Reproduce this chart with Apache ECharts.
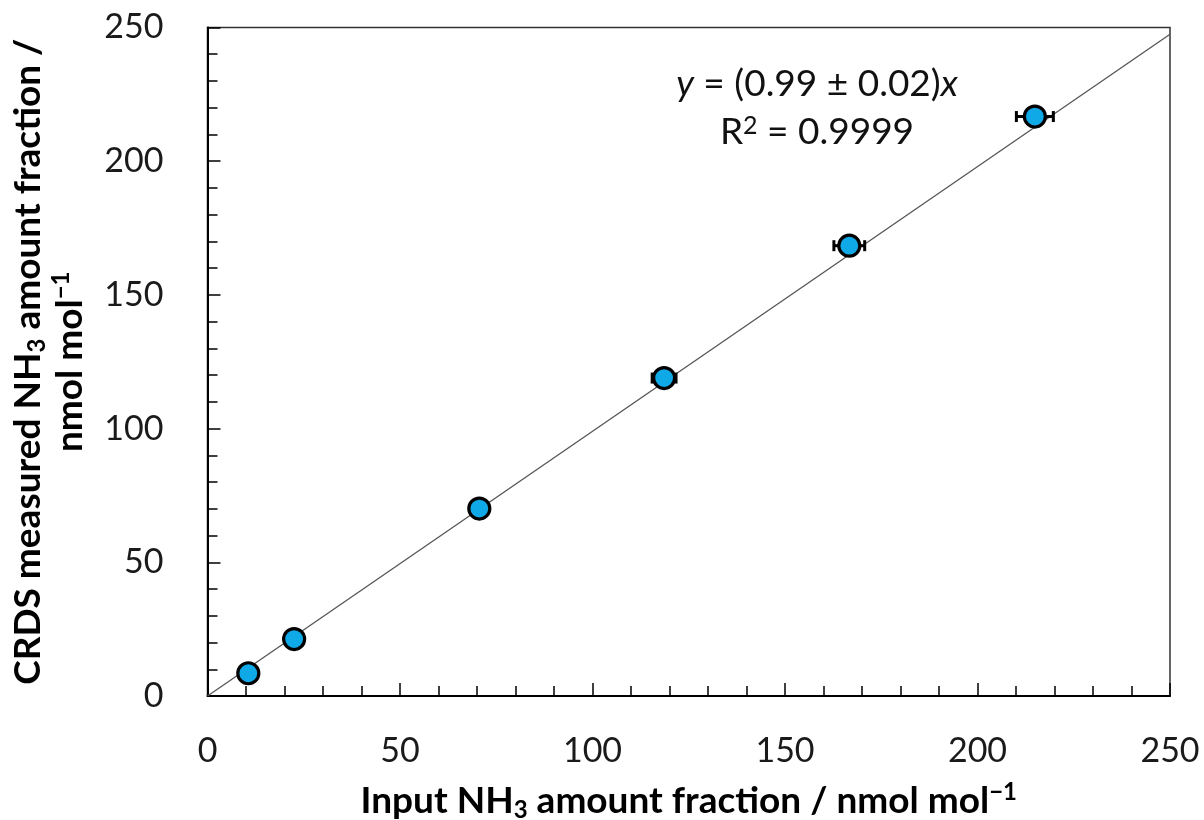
<!DOCTYPE html>
<html>
<head>
<meta charset="utf-8">
<script src="https://cdn.jsdelivr.net/npm/echarts@6/dist/echarts.min.js"></script>
<style>
  html, body { margin: 0; padding: 0; background: #fff; }
  #chart { width: 1204px; height: 820px; }
</style>
</head>
<body>
<div id="chart"></div>
<script>
// values
const inputNH3 = [10.6, 22.5, 70.6, 118.6, 166.7, 214.9];
const measuredNH3 = [8.5, 21.3, 70.1, 118.9, 168.4, 216.7];
const inputErr = [0.3, 0.6, 1.6, 3.1, 4.0, 4.8];
// fitted line y = 0.99x, end points
const fitX = [0, 250];
const fitY = [0, 247.5];
const axisMin = 0, axisMax = 250, axisStep = 50;

const FONT = 'Lato';

const chart = echarts.init(document.getElementById('chart'));

const nameRich = {
  b: { fontFamily: FONT, fontWeight: 'bold', fontSize: 37, lineHeight: 42, color: '#000' },
  sub: { fontFamily: FONT, fontWeight: 'bold', fontSize: 24, lineHeight: 20, verticalAlign: 'bottom', color: '#000' },
  sup: { fontFamily: FONT, fontWeight: 'bold', fontSize: 24, lineHeight: 30, verticalAlign: 'top', color: '#000' }
};

function axisCommon() {
  return {
    type: 'value',
    min: axisMin,
    max: axisMax,
    interval: axisStep,
    axisLine: { show: true, onZero: false, lineStyle: { color: '#000', width: 2 } },
    axisTick: { show: true, inside: true, length: 13, lineStyle: { color: '#000', width: 1.5 } },
    minorTick: { show: true, splitNumber: 5, length: 10, lineStyle: { color: '#000', width: 1.5 } },
    splitLine: { show: false },
    axisLabel: { fontFamily: FONT, fontSize: 34, color: '#1a1a1a' },
    nameLocation: 'middle',
    nameTextStyle: { rich: nameRich, align: 'center' }
  };
}

const xAxis = axisCommon();
xAxis.name = '{b|Input NH}{sub|3}{b| amount fraction / nmol mol}{sup|−1}';
xAxis.nameGap = 84;
xAxis.axisLabel.margin = 38;

const yAxis = axisCommon();
yAxis.name = '{b|CRDS measured NH}{sub|3}{b| amount fraction /}\n{b|nmol mol}{sup|−1}';
yAxis.nameGap = 116;
yAxis.nameRotate = 90;
yAxis.axisLabel.margin = 44;

const option = {
  backgroundColor: '#fff',
  animation: false,
  grid: {
    left: 207.5, right: 34, top: 27.5, bottom: 124,
    containLabel: false,
    outerBoundsMode: 'none',
    show: true,
    borderColor: '#333',
    borderWidth: 1.5,
    backgroundColor: 'transparent'
  },
  xAxis: xAxis,
  yAxis: yAxis,
  graphic: [
    {
      type: 'text',
      x: 817, y: 84,
      style: {
        text: '{i|y} = (0.99 ± 0.02){i|x}',
        align: 'center',
        verticalAlign: 'middle',
        font: '37px ' + FONT,
        fill: '#111',
        rich: {
          i: { fontStyle: 'italic', fontFamily: FONT, fontSize: 37, color: '#111' }
        }
      }
    },
    {
      type: 'text',
      x: 817, y: 132,
      style: {
        text: 'R{s|2} = 0.9999',
        align: 'center',
        verticalAlign: 'middle',
        font: '37px ' + FONT,
        fill: '#111',
        rich: {
          s: { fontFamily: FONT, fontSize: 25, lineHeight: 32, verticalAlign: 'top', color: '#111' }
        }
      }
    }
  ],
  series: [
    {
      name: 'fit',
      type: 'line',
      data: fitX.map((x, i) => [x, fitY[i]]),
      symbol: 'none',
      lineStyle: { color: '#555', width: 1.3 },
      z: 1,
      silent: true
    },
    {
      name: 'xerr',
      type: 'custom',
      z: 2,
      data: inputNH3.map((x, i) => [x - inputErr[i], x + inputErr[i], measuredNH3[i]]),
      renderItem: function (params, api) {
        const lo = api.coord([api.value(0), api.value(2)]);
        const hi = api.coord([api.value(1), api.value(2)]);
        const cap = 5.5;
        const st = { stroke: '#000', lineWidth: 3 };
        return {
          type: 'group',
          children: [
            { type: 'line', shape: { x1: lo[0], y1: lo[1], x2: hi[0], y2: hi[1] }, style: st },
            { type: 'line', shape: { x1: lo[0], y1: lo[1] - cap, x2: lo[0], y2: lo[1] + cap }, style: st },
            { type: 'line', shape: { x1: hi[0], y1: hi[1] - cap, x2: hi[0], y2: hi[1] + cap }, style: st }
          ]
        };
      }
    },
    {
      name: 'data',
      type: 'scatter',
      z: 3,
      data: inputNH3.map((x, i) => [x, measuredNH3[i]]),
      symbol: 'circle',
      symbolSize: 21,
      itemStyle: { color: '#0FA9E8', borderColor: '#000', borderWidth: 3.2, opacity: 1 }
    }
  ]
};

chart.setOption(option);
</script>
</body>
</html>
